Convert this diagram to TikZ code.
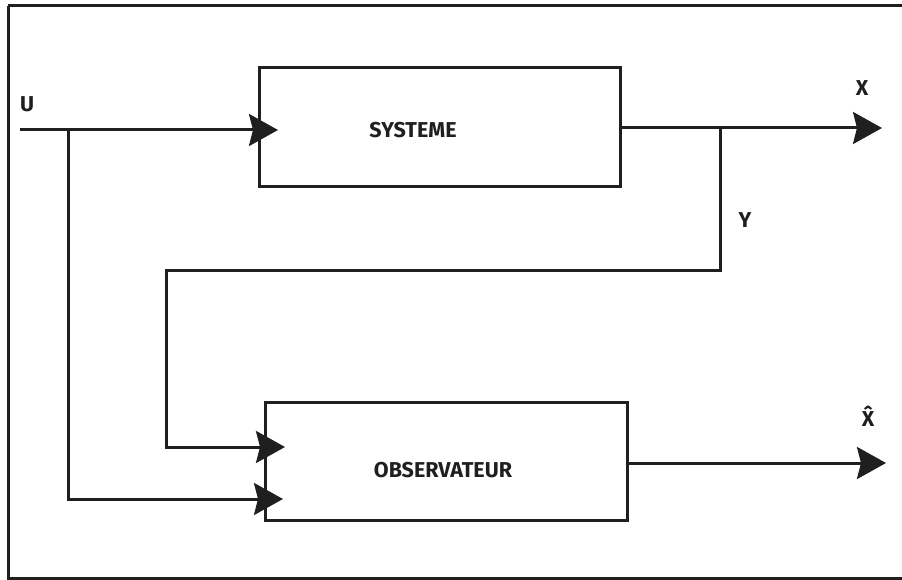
\documentclass[tikz,border=0pt]{standalone}
\usepackage{fontspec}
\setmainfont{Fira Sans}
\usetikzlibrary{arrows.meta,calc}
\tikzset{
  blk/.style={draw=black!88, line width=3pt, rectangle, inner sep=0pt, outer sep=0pt},
  lbl/.style={font=\bfseries\fontsize{21.5}{22}\selectfont, text=black!88, inner sep=0pt},
  wire/.style={draw=black!88, line width=3pt},
  arr/.style={wire, -{Stealth[length=29pt, width=32pt, inset=4pt]}, shorten >=0pt}
}
\begin{document}
\begin{tikzpicture}[x=1pt,y=-1pt]
\useasboundingbox (0,0) rectangle (902,580);
\clip (0,0) rectangle (902,580);
% outer frame
\draw[wire] (8,6) -- (920,6) (8,6) -- (8,578) -- (920,578);
% blocks
\node[blk, minimum width=361pt, minimum height=119pt] (sys) at (439.5,127.5) {};
\node[blk, minimum width=362pt, minimum height=118pt] (obs) at (446,461) {};
\node[lbl] (systxt) at (413,130) {SYSTEME};
\node[lbl] (obstxt) at (443,470) {OBSERVATEUR};
% coordinates
\coordinate (u) at (20,130);
\coordinate (j1) at (68,130);
\coordinate (xo) at (882,128);
\coordinate (j2) at (720,128);
\coordinate (yb) at (720,270);
\coordinate (yl) at (166,447);
\coordinate (xh) at (886,463);
% labels
\node[lbl] (ulbl) at (27,104) {U};
\node[lbl] (xlbl) at (862,88) {X};
\node[lbl] (ylbl) at (745,220) {Y};
\node[lbl] (xhlbl) at (868,416) {\^{X}};
% connectors
\draw[arr] (u) -- ($(sys.west|-u)+(19,0)$);
\draw[arr] (j1) |- ($(obs.west|-0,499)+(18,0)$);
\draw[arr] (sys.east|-xo) -- (xo);
\draw[arr] (j2) -- (yb) -| (yl) -- ($(obs.west|-yl)+(20,0)$);
\draw[arr] (obs.east|-xh) -- (xh);
\end{tikzpicture}
\end{document}
